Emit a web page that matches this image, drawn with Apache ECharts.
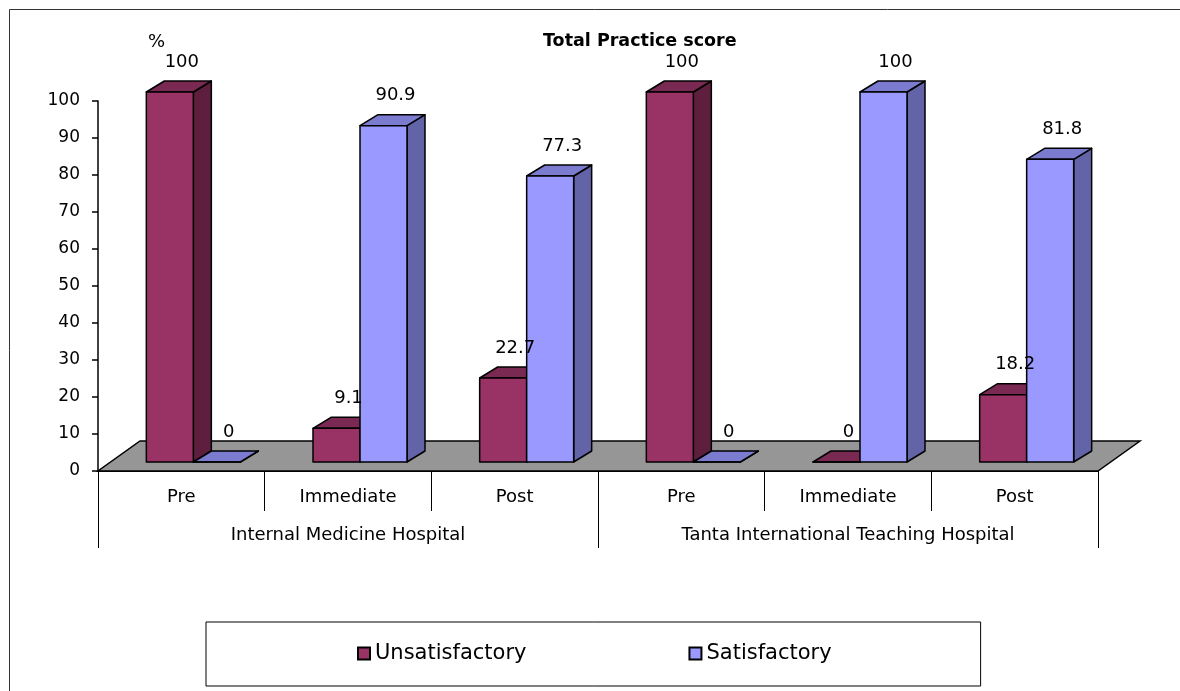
<!DOCTYPE html>
<html>
<head>
<meta charset="utf-8">
<script src="https://cdn.jsdelivr.net/npm/echarts@6/dist/echarts.min.js"></script>
<style>
html, body { margin: 0; padding: 0; background: #fff; }
#main { width: 1180px; height: 691px; }
</style>
</head>
<body>
<div id="main"></div>
<script>
var phases = ['Pre', 'Immediate', 'Post', 'Pre', 'Immediate', 'Post'];
var hospitals = ['Internal Medicine Hospital', 'Tanta International Teaching Hospital'];
var unsatisfactory = [100, 9.1, 22.7, 100, 0, 18.2];
var satisfactory = [0, 90.9, 77.3, 0, 100, 81.8];
var yMin = 0, yMax = 100, yStep = 10;

var font = 'DejaVu Sans';
var unsatColors = ['#993366', '#7a2952', '#5e1f3f'];
var satColors = ['#9999ff', '#7b7bd0', '#6363a8'];

function toPairs(arr) {
	return arr.map(function (v, i) { return [i, v]; });
}

// fake 3d bar: front rect, top and side parallelograms
function barItem(colors, side) {
	return function (params, api) {
		var cat = api.value(0), val = api.value(1);
		var p0 = api.coord([cat, 0]);
		var p1 = api.coord([cat, val]);
		var cw = api.size([1, 0])[0];
		var w = cw * 0.282, sh = cw * 0.072, dx = cw * 0.108, dy = 11, lift = 9;
		var xl = p0[0] + sh + (side < 0 ? -w : 0);
		var xr = xl + w;
		var yb = p0[1] - lift, yt = p1[1] - lift;
		var st = function (fill) {
			return { fill: fill, stroke: '#000', lineWidth: 1.5, lineJoin: 'round' };
		};
		return {
			type: 'group',
			children: [
				{ type: 'polygon', shape: { points: [[xr, yb], [xr + dx, yb - dy], [xr + dx, yt - dy], [xr, yt]] }, style: st(colors[2]) },
				{ type: 'polygon', shape: { points: [[xl, yt], [xr, yt], [xr + dx, yt - dy], [xl + dx, yt - dy]] }, style: st(colors[1]) },
				{ type: 'rect', shape: { x: xl, y: yt, width: w, height: yb - yt }, style: st(colors[0]) },
				{ type: 'text', z2: 100, style: {
					text: String(val), x: (xl + xr) / 2 + 12, y: yt - dy - 19,
					align: 'center', verticalAlign: 'middle',
					fontSize: 18, fontFamily: font, fill: '#000'
				} }
			]
		};
	};
}

var myChart = echarts.init(document.getElementById('main'));

var option = {
	animation: false,
	textStyle: { fontFamily: font, color: '#000' },
	title: {
		text: 'Total Practice score',
		left: 543, top: 32, padding: 0,
		textStyle: { fontSize: 17.5, fontWeight: 'bold', fontFamily: font, color: '#000' }
	},
	legend: {
		left: 206, top: 622,
		padding: [21, 149, 22, 151],
		borderColor: '#000', borderWidth: 1,
		itemWidth: 12, itemHeight: 12, itemGap: 162,
		textStyle: { fontSize: 21, fontFamily: font, color: '#000' },
		data: [
			{ name: 'Unsatisfactory', icon: 'rect', itemStyle: { color: unsatColors[0], borderColor: '#000', borderWidth: 2 } },
			{ name: 'Satisfactory', icon: 'rect', itemStyle: { color: satColors[0], borderColor: '#000', borderWidth: 2 } }
		]
	},
	graphic: [{
		type: 'polyline',
		shape: { points: [[9.5, 691], [9.5, 9.5], [1180, 9.5]] },
		style: { stroke: '#333', lineWidth: 1, fill: null }
	}],
	grid: { left: 98, right: 82, top: 101, bottom: 220 },
	xAxis: [{
		type: 'category',
		data: phases,
		axisLine: { show: true, lineStyle: { color: '#000', width: 2 } },
		axisTick: { show: true, alignWithLabel: false, interval: 0, length: 40, lineStyle: { color: '#000', width: 1 } },
		axisLabel: { margin: 17, fontSize: 18, fontFamily: font, color: '#000' }
	}, {
		type: 'category',
		data: hospitals,
		position: 'bottom',
		axisLine: { show: false },
		axisTick: { show: true, alignWithLabel: false, interval: 0, length: 77, lineStyle: { color: '#000', width: 1 } },
		axisLabel: { margin: 55, fontSize: 18, fontFamily: font, color: '#000' }
	}],
	yAxis: {
		type: 'value',
		min: yMin, max: yMax, interval: yStep,
		name: '%',
		nameLocation: 'end',
		nameGap: 50,
		nameTextStyle: { fontSize: 18, fontFamily: font, color: '#000', align: 'left', padding: [0, 0, 0, 50] },
		axisLine: { show: true, lineStyle: { color: '#000', width: 1.5 } },
		axisTick: { show: true, length: 6, lineStyle: { color: '#000', width: 1.5 } },
		axisLabel: { margin: 18, fontSize: 17, fontFamily: font, color: '#000' },
		splitLine: { show: false }
	},
	series: [{
		name: 'floor',
		type: 'custom',
		z: 1,
		silent: true,
		data: [[0, 0]],
		renderItem: function (params, api) {
			var cs = params.coordSys;
			var cw = api.size([1, 0])[0];
			var y = cs.y + cs.height;
			var dx = cw * 0.252, dy = 30;
			return {
				type: 'polygon',
				shape: { points: [[cs.x, y], [cs.x + cs.width, y], [cs.x + cs.width + dx, y - dy], [cs.x + dx, y - dy]] },
				style: { fill: '#969696', stroke: '#000', lineWidth: 1.5 }
			};
		}
	}, {
		name: 'Unsatisfactory',
		type: 'custom',
		z: 2,
		itemStyle: { color: unsatColors[0] },
		data: toPairs(unsatisfactory),
		renderItem: barItem(unsatColors, -1)
	}, {
		name: 'Satisfactory',
		type: 'custom',
		z: 2,
		itemStyle: { color: satColors[0] },
		data: toPairs(satisfactory),
		renderItem: barItem(satColors, 1)
	}]
};

myChart.setOption(option);
</script>
</body>
</html>
